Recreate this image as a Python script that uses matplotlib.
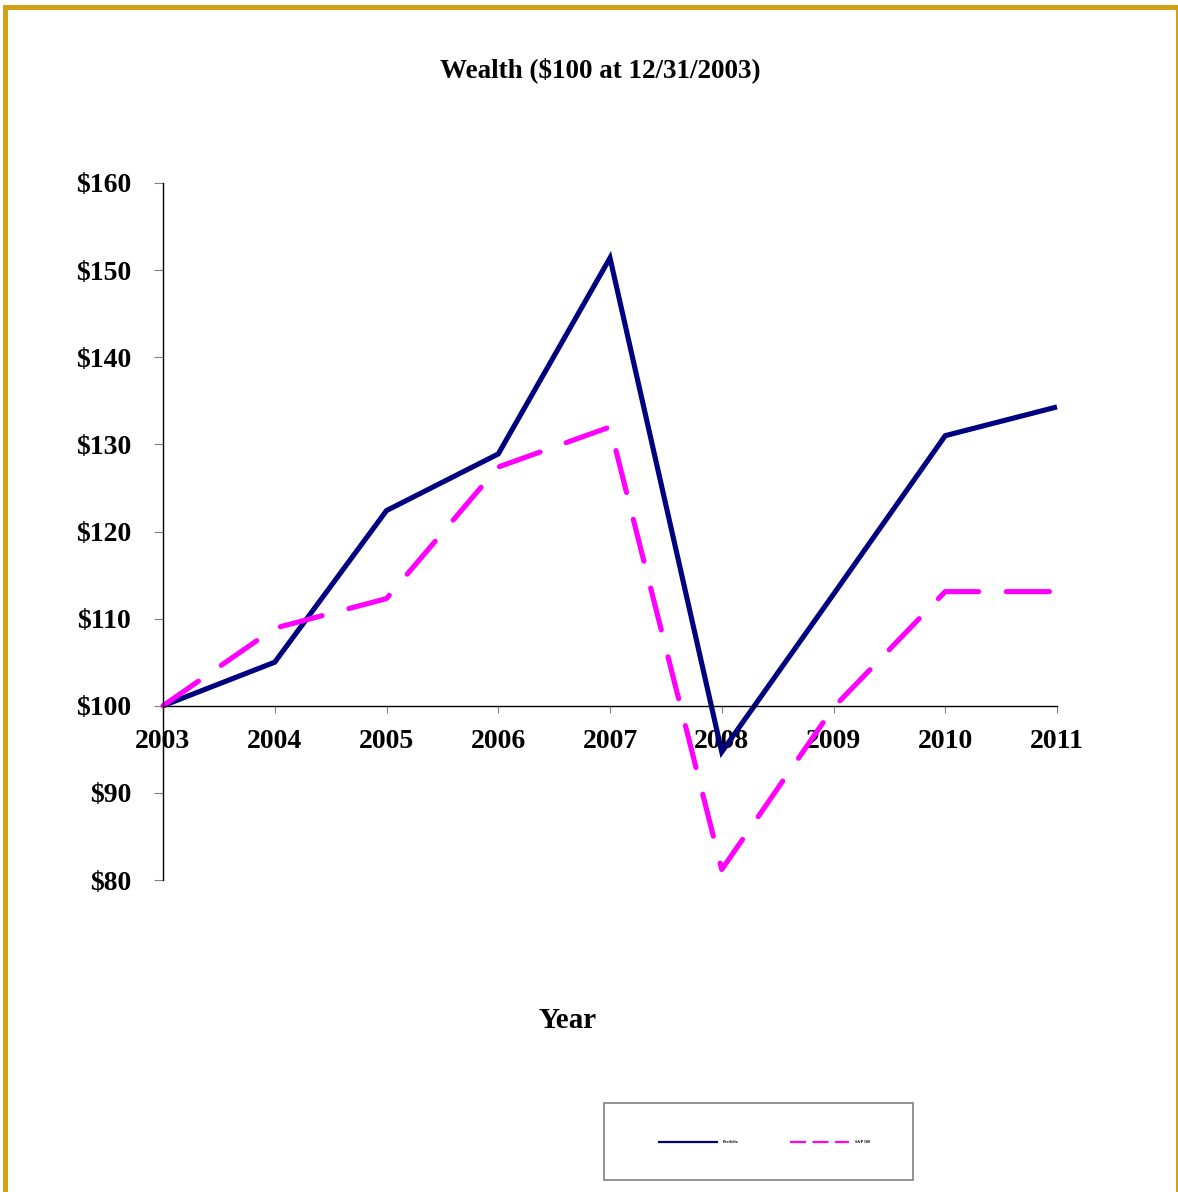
import matplotlib.pyplot as plt
from matplotlib.patches import Rectangle
from matplotlib.lines import Line2D

# values
years = [2003, 2004, 2005, 2006, 2007, 2008, 2009, 2010, 2011]
portfolio = [100, 105.0, 122.4, 128.9, 151.4, 94.7, 112.8, 131.0, 134.3]
sp500 = [100, 108.9, 112.3, 127.4, 132.0, 81.2, 99.8, 113.1, 113.1]
yticks = [80, 90, 100, 110, 120, 130, 140, 150, 160]
series_names = ['Portfolio', 'S&P 500']

W, H = 1178, 1192
plt.rcParams['font.family'] = ['Liberation Serif', 'DejaVu Serif']
plt.rcParams['font.weight'] = 'bold'

fig = plt.figure(figsize=(W / 100, H / 100), dpi=100)
fig.patch.set_facecolor('white')

# gold frame (top, left, right)
gold = '#D4A017'
fig.add_artist(Rectangle((3 / W, 0), 5 / W, 1 - 5 / H, transform=fig.transFigure,
                         facecolor=gold, edgecolor='none'))
fig.add_artist(Rectangle((3 / W, 1 - 10 / H), 1 - 3 / W, 5 / H, transform=fig.transFigure,
                         facecolor=gold, edgecolor='none'))
fig.add_artist(Rectangle((1 - 2 / W, 0), 2 / W, 1 - 5 / H, transform=fig.transFigure,
                         facecolor=gold, edgecolor='none'))

ax = fig.add_axes([163 / W, 1 - 880 / H, (1057 - 163) / W, (880 - 183) / H])
ax.spines['top'].set_visible(False)
ax.spines['right'].set_visible(False)
ax.spines['bottom'].set_position(('data', 100))
ax.spines['left'].set_linewidth(1.0)
ax.spines['bottom'].set_linewidth(1.0)

ax.plot(years, portfolio, color='#000080', linewidth=3.7, clip_on=False,
        solid_joinstyle='miter', solid_capstyle='butt', label=series_names[0])
ax.plot(years, sp500, color='#FF00FF', linewidth=3.7, clip_on=False,
        dashes=(8.4, 5.4), dash_capstyle='round', label=series_names[1])

ax.set_xlim(2003, 2011)
ax.set_ylim(80, 160)
ax.set_xticks(years)
ax.set_xticklabels([str(y) for y in years])
ax.set_yticks(yticks)
ax.set_yticklabels(['$%d' % v for v in yticks])
ax.tick_params(axis='x', direction='out', length=5, color='gray', pad=12, labelsize=20)
ax.tick_params(axis='y', direction='out', length=6.5, color='gray', pad=16.5, labelsize=20)
for lab in ax.get_xticklabels() + ax.get_yticklabels():
    lab.set_fontweight('bold')
ax.set_facecolor('none')

fig.text(600 / W, 1 - 70 / H, 'Wealth ($100 at 12/31/2003)', ha='center', va='center',
         fontsize=19.5, fontweight='bold')
fig.text(568 / W, 1 - 1021 / H, 'Year', ha='center', va='center',
         fontsize=21, fontweight='bold')

# legend box
fig.add_artist(Rectangle((604 / W, 1 - 1180 / H), 309 / W, 77 / H, transform=fig.transFigure,
                         facecolor='white', edgecolor='gray', linewidth=1.2))
handles = [Line2D([], [], color='#000080', linewidth=1.6),
           Line2D([], [], color='#FF00FF', linewidth=1.6, dashes=(7.2, 2.9))]
fig.legend(handles, series_names, ncol=2, loc='center',
           bbox_to_anchor=(764 / W, 1 - 1142 / H),
           fontsize=3, handlelength=14, handletextpad=1.4, columnspacing=12.5,
           frameon=False, borderpad=0, borderaxespad=0)

fig.savefig('out.png', dpi=100, facecolor='white')
